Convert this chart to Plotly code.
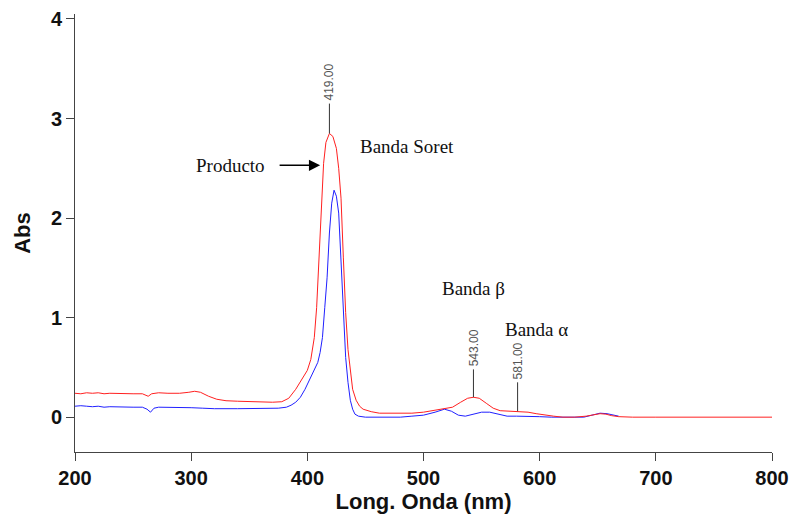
import plotly.graph_objects as go

# Producto (red) spectrum: wavelength (nm), absorbance
red_wl = [200, 205, 210, 215, 220, 225, 230, 240, 250, 258, 263, 266, 272, 280, 290, 298, 303, 308, 315, 322,
          330, 340, 350, 360, 370, 378, 384, 390, 395, 400, 403, 406, 408, 410, 412, 414, 416, 419, 422, 425,
          427, 429, 431, 433, 435, 437, 439, 442, 445, 448, 455, 462, 470, 480, 490, 500, 510, 518, 525, 532,
          538, 543, 548, 554, 560, 566, 575, 581, 590, 597, 605, 612, 620, 630, 640, 647, 652, 657, 662, 668,
          680, 700, 750, 800]
red_abs = [0.24, 0.235, 0.245, 0.24, 0.245, 0.235, 0.24, 0.235, 0.235, 0.235, 0.21, 0.235, 0.245, 0.24, 0.24, 0.25, 0.26, 0.25, 0.21, 0.18,
           0.165, 0.16, 0.155, 0.15, 0.15, 0.155, 0.19, 0.28, 0.37, 0.47, 0.58, 0.8, 1.1, 1.55, 2.1, 2.55, 2.76, 2.85, 2.82, 2.7,
           2.5, 2.2, 1.6, 1.05, 0.68, 0.45, 0.28, 0.17, 0.11, 0.08, 0.055, 0.04, 0.04, 0.04, 0.04, 0.05, 0.07, 0.08, 0.1, 0.15,
           0.19, 0.2, 0.19, 0.14, 0.09, 0.065, 0.06, 0.06, 0.05, 0.035, 0.02, 0.01, 0.0, 0.0, 0.01, 0.025, 0.035, 0.03, 0.015, 0.005,
           0.0, 0.0, 0.0, 0.0]

# Second (blue) spectrum
blue_wl = [200, 205, 210, 215, 220, 225, 230, 240, 250, 258, 262, 265, 268, 272, 280, 290, 300, 310, 320, 340,
           360, 375, 382, 386, 390, 394, 398, 402, 406, 409, 411, 413, 415, 417, 419, 421, 423, 425, 427, 429,
           431, 433, 435, 437, 439, 441, 444, 450, 460, 480, 490, 500, 510, 518, 524, 530, 536, 542, 550, 557,
           565, 572, 580, 590, 600, 610, 625, 638, 645, 652, 658, 663, 668]
blue_abs = [0.11, 0.115, 0.11, 0.105, 0.11, 0.1, 0.105, 0.1, 0.1, 0.1, 0.08, 0.05, 0.09, 0.1, 0.1, 0.1, 0.095, 0.09, 0.085, 0.085,
            0.085, 0.09, 0.1, 0.12, 0.15, 0.2, 0.28, 0.38, 0.47, 0.55, 0.65, 0.8, 1.1, 1.4, 1.85, 2.15, 2.28, 2.22, 2.05, 1.55,
            1.0, 0.6, 0.35, 0.17, 0.08, 0.03, 0.01, 0.0, 0.0, 0.0, 0.01, 0.02, 0.05, 0.08, 0.06, 0.02, 0.01, 0.03, 0.05, 0.05,
            0.03, 0.01, 0.01, 0.01, 0.005, 0.0, 0.0, 0.0, 0.02, 0.04, 0.035, 0.02, 0.01]

# Peak markers: wavelength, absorbance at peak, top of marker line, label
peak_wl = [419, 543, 581]
peak_abs = [2.85, 0.2, 0.06]
peak_top = [3.15, 0.48, 0.35]
peak_labels = ["419.00", "543.00", "581.00"]

x_ticks = [200, 300, 400, 500, 600, 700, 800]
y_ticks = [0, 1, 2, 3, 4]

fig = go.Figure()
fig.add_trace(go.Scatter(x=blue_wl, y=blue_abs, mode="lines", line=dict(color="#2020ff", width=1), showlegend=False))
fig.add_trace(go.Scatter(x=red_wl, y=red_abs, mode="lines", line=dict(color="#ff2020", width=1), showlegend=False))

for wl, a, top, lab in zip(peak_wl, peak_abs, peak_top, peak_labels):
    fig.add_shape(type="line", x0=wl, x1=wl, y0=a, y1=top, xref="x", yref="y",
                  line=dict(color="#333333", width=1))
    fig.add_annotation(x=wl, y=top, text=lab, showarrow=False, textangle=-90,
                       xanchor="center", yanchor="bottom", yshift=1,
                       font=dict(family="Liberation Sans", size=12, color="#555555"))

serif = dict(family="Liberation Serif", size=19, color="#111111")
fig.add_annotation(x=486, y=2.72, text="Banda Soret", showarrow=False, xanchor="center", yanchor="middle", font=serif)
fig.add_annotation(x=543, y=1.29, text="Banda β", showarrow=False, xanchor="center", yanchor="middle", font=serif)
fig.add_annotation(x=597, y=0.88, text="Banda α", showarrow=False, xanchor="center", yanchor="middle", font=serif)
fig.add_annotation(x=411, y=2.53, ax=-42, ay=0, text="", showarrow=True, arrowhead=2, arrowsize=1.4,
                   arrowwidth=1.6, arrowcolor="#000000", standoff=0)
fig.add_annotation(x=365, y=2.53, text="Producto", showarrow=False, xanchor="right", yanchor="middle", font=serif)

axis_common = dict(showline=True, linecolor="#444444", linewidth=1, ticks="outside", ticklen=8,
                   tickcolor="#444444", tickwidth=1, showgrid=False, zeroline=False, automargin=False,
                   tickfont=dict(family="Liberation Sans", size=20, color="#111111", weight="bold"))

fig.update_layout(
    width=793, height=520,
    margin=dict(l=75, r=21, t=14, b=68, autoexpand=False),
    paper_bgcolor="white", plot_bgcolor="white",
    xaxis=dict(range=[200, 800], tickvals=x_ticks, ticktext=[str(v) for v in x_ticks],
               title=dict(text="Long. Onda (nm)", standoff=4,
                          font=dict(family="Liberation Sans", size=22, color="#111111", weight="bold")),
               **axis_common),
    yaxis=dict(range=[-0.35, 4.05], tickvals=y_ticks, ticktext=[str(v) for v in y_ticks],
               title=dict(text="Abs", standoff=14,
                          font=dict(family="Liberation Sans", size=22, color="#111111", weight="bold")),
               **axis_common),
)

fig.write_html("out.html")
